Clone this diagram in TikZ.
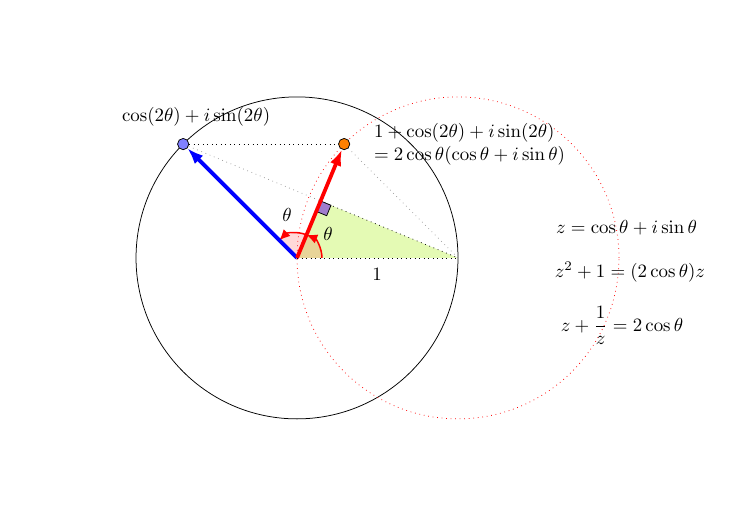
\documentclass[tikz,border=0pt]{standalone}
\usepackage{amssymb}
\usepackage{tikz}
\usetikzlibrary{arrows.meta,positioning,calc}
\definecolor{LimeFill}{RGB}{228,250,180}
\definecolor{SqFill}{RGB}{160,125,205}
\begin{document}
\begin{tikzpicture}[scale=3]
			\tikzstyle{Point}	= [circle, draw, solid, inner sep=0pt, minimum size=2.1mm]
			\tikzstyle{Vec}		= [line width=2pt, -{Latex[length=3mm, width=2.2mm]}]
			\tikzstyle{Aux}		= [dotted, thin]
			\tikzstyle{Faint}	= [dotted, gray!80, thin]
			\tikzstyle{AngArc}	= [red, thick, -{Latex[length=2mm, width=1.8mm]}]
			\useasboundingbox (-1.845,-1.571) rectangle (2.845,1.602);

			\coordinate (o) at (0,0);
			\coordinate (one) at (1,0);
			\coordinate (m) at ({(1+cos(135))/2},{sin(135)/2});

			\fill [LimeFill] (o) -- (one) -- (m) -- cycle;
			\fill [red, opacity=0.15] (o) -- (0.155,0) arc (0:135:0.155) -- cycle;

			\draw (o) circle (1);
			\draw [red, dotted] (one) circle (1);

			\node (pz2) at (135:1) [Point, fill=blue!50] {};
			\node (pw) at ($(one)+(135:1)$) [Point, fill=orange] {};

			\draw (pz2) -- (pw) [Aux];
			\draw (pz2) -- (m) [Faint];
			\draw (m) -- (one) [Aux];
			\draw (pw) -- (one) [Faint];
			\draw (o) -- (one) [Aux];

			\draw [fill=SqFill] (m) -- ++(247.5:0.07) -- ++(-22.5:0.07) -- ++(67.5:0.07) -- cycle;

			\draw [AngArc] (0.155,0) arc (0:67.5:0.155);
			\draw [AngArc] (67.5:0.155) arc (67.5:135:0.155);

			\draw (o) -- (pz2) [Vec, blue];
			\draw (o) -- (pw) [Vec, red];

			\node (lz2) at (-0.627,0.876) {$\cos(2\theta)+i\sin(2\theta)$};
			\node (lw) [right=0.32cm of pw, align=left] {$1+\cos(2\theta)+i\sin(2\theta)$\\$=2\cos\theta(\cos\theta+i\sin\theta)$};
			\node (lone) at (0.497,-0.1) {$1$};
			\node (lt1) at (0.193,0.149) {$\theta$};
			\node (lt2) at (-0.062,0.267) {$\theta$};

			\node (e1) at (2.047,0.186) {$z=\cos\theta+i\sin\theta$};
			\node (e2) at (2.068,-0.087) {$z^2+1=(2\cos\theta)z$};
			\node (e3) at (2.019,-0.42) {$z+\displaystyle\frac{1}{z}=2\cos\theta$};
		\end{tikzpicture}
\end{document}
